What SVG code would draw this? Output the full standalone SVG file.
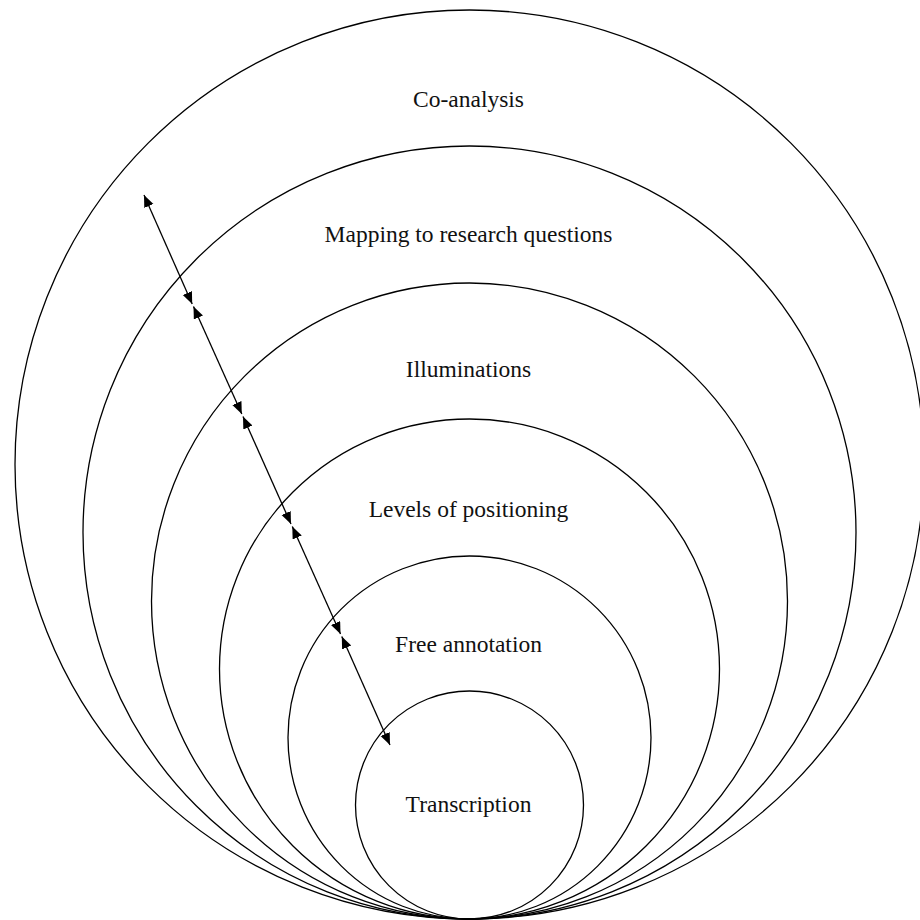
<svg xmlns="http://www.w3.org/2000/svg" width="920" height="920" viewBox="0 0 920 920">
  <style>
    .ring { fill: none; stroke: #000; stroke-width: 1.3; }
    .label { font-family: "Liberation Serif", "Times New Roman", serif; font-size: 23.5px; fill: #111; text-anchor: middle; }
    .link { stroke: #000; stroke-width: 1.3; fill: none; marker-start: url(#arrow); marker-end: url(#arrow); }
  </style>
  <defs>
    <marker id="arrow" markerUnits="userSpaceOnUse" markerWidth="13" markerHeight="11" refX="12" refY="5" orient="auto-start-reverse">
      <path d="M0,0 L12,5 L0,10 z" fill="#000"/>
    </marker>
  </defs>
  <rect width="920" height="920" fill="#fff"/>
  <g id="co-analysis">
    <circle class="ring" cx="469.5" cy="464.5" r="454.5"/>
    <text class="label" x="468.5" y="107">Co-analysis</text>
  </g>
  <g id="mapping">
    <circle class="ring" cx="469.5" cy="532.5" r="386.5"/>
    <text class="label" x="468.5" y="242">Mapping to research questions</text>
  </g>
  <g id="illuminations">
    <circle class="ring" cx="469.5" cy="601" r="318"/>
    <text class="label" x="468.5" y="377">Illuminations</text>
  </g>
  <g id="levels">
    <circle class="ring" cx="469.5" cy="669" r="250"/>
    <text class="label" x="468.5" y="517">Levels of positioning</text>
  </g>
  <g id="free-annotation">
    <circle class="ring" cx="469.5" cy="737.5" r="181.5"/>
    <text class="label" x="468.5" y="652">Free annotation</text>
  </g>
  <g id="transcription">
    <circle class="ring" cx="469.5" cy="805" r="114"/>
    <text class="label" x="468.5" y="812">Transcription</text>
  </g>
  <g id="connectors">
    <line class="link" x1="144" y1="195" x2="192.2" y2="304"/>
    <line class="link" x1="193.5" y1="306.5" x2="241.8" y2="414"/>
    <line class="link" x1="243" y1="416.5" x2="291" y2="524"/>
    <line class="link" x1="292.3" y1="526.5" x2="340.5" y2="634"/>
    <line class="link" x1="341.8" y1="636.5" x2="390" y2="745"/>
  </g>
</svg>
